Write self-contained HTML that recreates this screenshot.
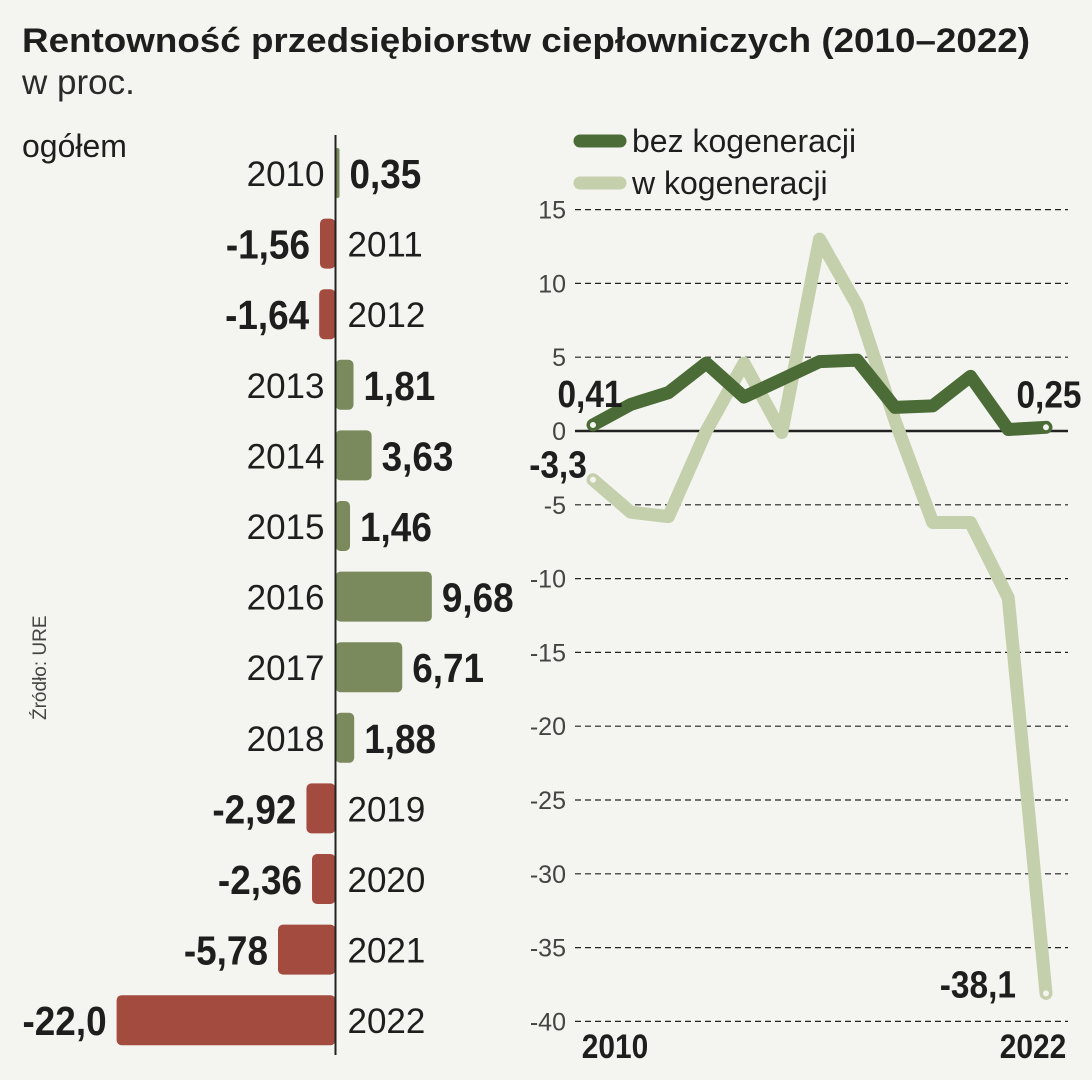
<!DOCTYPE html>
<html><head><meta charset="utf-8"><style>
body{margin:0;background:#f4f5f0;}
svg{display:block;font-family:"Liberation Sans",sans-serif;}
</style></head><body>
<svg id="c" width="1092" height="1080" viewBox="0 0 1092 1080">
<rect width="1092" height="1080" fill="#f4f5f0"/>
<text x="22" y="52" font-size="34" font-weight="bold" fill="#1e1e1e" textLength="1008" lengthAdjust="spacingAndGlyphs">Rentowność przedsiębiorstw ciepłowniczych (2010–2022)</text>
<text x="22" y="94" font-size="35" fill="#2a2a2a">w proc.</text>
<text x="22" y="157" font-size="32" fill="#1e1e1e">ogółem</text>
<text transform="translate(46,720) rotate(-90)" font-size="19" fill="#444">Źródło: URE</text>
<g id="bars"></g>
<line x1="335.5" y1="135" x2="335.5" y2="1055" stroke="#222" stroke-width="2"/>
<g id="line"></g>
<g>
<g><line x1="580" y1="141" x2="620" y2="141" stroke="#4b6b37" stroke-width="13" stroke-linecap="round"/><text x="632" y="152" font-size="32" fill="#1e1e1e">bez kogeneracji</text></g>
<g><line x1="580" y1="183" x2="620" y2="183" stroke="#c4d0ac" stroke-width="13" stroke-linecap="round"/><text x="632" y="194" font-size="32" fill="#1e1e1e">w kogeneracji</text></g>
</g>
</svg>
<script>
const years=[2010,2011,2012,2013,2014,2015,2016,2017,2018,2019,2020,2021,2022];
const total=[0.35,-1.56,-1.64,1.81,3.63,1.46,9.68,6.71,1.88,-2.92,-2.36,-5.78,-22.0];
const totalLabels=["0,35","-1,56","-1,64","1,81","3,63","1,46","9,68","6,71","1,88","-2,92","-2,36","-5,78","-22,0"];
const bez=[0.41,1.8,2.6,4.6,2.3,3.5,4.7,4.8,1.6,1.7,3.7,0.1,0.25];
const wk=[-3.3,-5.5,-5.8,0,4.6,-0.1,13,8.5,0.7,-6.2,-6.2,-11.3,-38.1];
const yTicks=[15,10,5,0,-5,-10,-15,-20,-25,-30,-35,-40];
const NS="http://www.w3.org/2000/svg";
function mk(t,a,p){const e=document.createElementNS(NS,t);for(const k in a)e.setAttribute(k,a[k]);p.appendChild(e);return e;}
const bg=document.getElementById('bars');
const ax=335.5, k=9.95;
const rowY=i=>173+i*70.6;
const bx=v=>ax+v*k;
total.forEach((v,i)=>{
  const cy=rowY(i);let w=Math.abs(bx(v)-bx(0));w=Math.max(w,4);
  const r=mk('rect',{x:v>=0?ax:ax-w,y:cy-25,width:w,height:50,rx:Math.min(5,w/2),fill:v>=0?'#7a8a5c':'#a34b3f'},bg);
  
  
  const yl=mk('text',{y:cy+13,'font-size':35,fill:'#1e1e1e'},bg);
  yl.textContent=years[i];
  
  
  const vl=mk('text',{y:cy+15,'font-size':41,'font-weight':'bold',fill:'#1e1e1e'},bg);
  vl.textContent=totalLabels[i];
  
  
  let tx;
  if(v>=0){yl.setAttribute('x',ax-11);yl.setAttribute('text-anchor','end');tx=ax+w+10;vl.setAttribute('text-anchor','start');}
  else{yl.setAttribute('x',ax+12);tx=ax-w-10;vl.setAttribute('text-anchor','end');}
  vl.setAttribute('x',0);
  vl.setAttribute('transform','translate('+tx+',0) scale(0.9,1)');
});
const lg=document.getElementById('line');
const X=i=>593+i*37.75, Y=v=>431-v*14.76;
yTicks.forEach(t=>{
  const l=mk('line',{x1:575,x2:1068,y1:Y(t),y2:Y(t),stroke:'#222','stroke-width':t===0?2.5:1.2,'stroke-dasharray':t===0?'':'6 4'},lg);
  
  
  const tx=mk('text',{x:566,y:Y(t)+9,'text-anchor':'end','font-size':25,fill:'#444'},lg);
  tx.textContent=t;
  
  
});
function series(arr,col,name){
  const p=mk('polyline',{points:arr.map((v,i)=>X(i)+','+Y(v)).join(' '),fill:'none',stroke:col,'stroke-width':13,'stroke-linejoin':'round','stroke-linecap':'round'},lg);
  
  
  [0,arr.length-1].forEach(i=>{const c=mk('circle',{cx:X(i),cy:Y(arr[i]),r:4,fill:'#f4f5f0',stroke:col,'stroke-width':2},lg);
  
  });
}
series(wk,'#c4d0ac','line-w-kogeneracji');
series(bez,'#4b6b37','line-bez-kogeneracji');
function lab(x,y,t,a,n,fs){const e=mk('text',{x:0,y:y,'font-size':fs||38,'font-weight':'bold',fill:'#1e1e1e','text-anchor':a,transform:'translate('+x+',0) scale(0.88,1)'},lg);e.textContent=t;

}
lab(X(0)-3,Y(bez[0])-18,'0,41','middle','label-bez-2010');
lab(X(12)+3,Y(bez[12])-20,'0,25','middle','label-bez-2022');
lab(X(0)-35,Y(wk[0])-2,'-3,3','middle','label-w-2010');
lab(X(12)-30,Y(wk[12])+4,'-38,1','end','label-w-2022');
lab(X(0)+22,1058,'2010','middle','x-label-2010',34);
lab(X(12)-13,1058,'2022','middle','x-label-2022',34);
</script>
</body></html>
